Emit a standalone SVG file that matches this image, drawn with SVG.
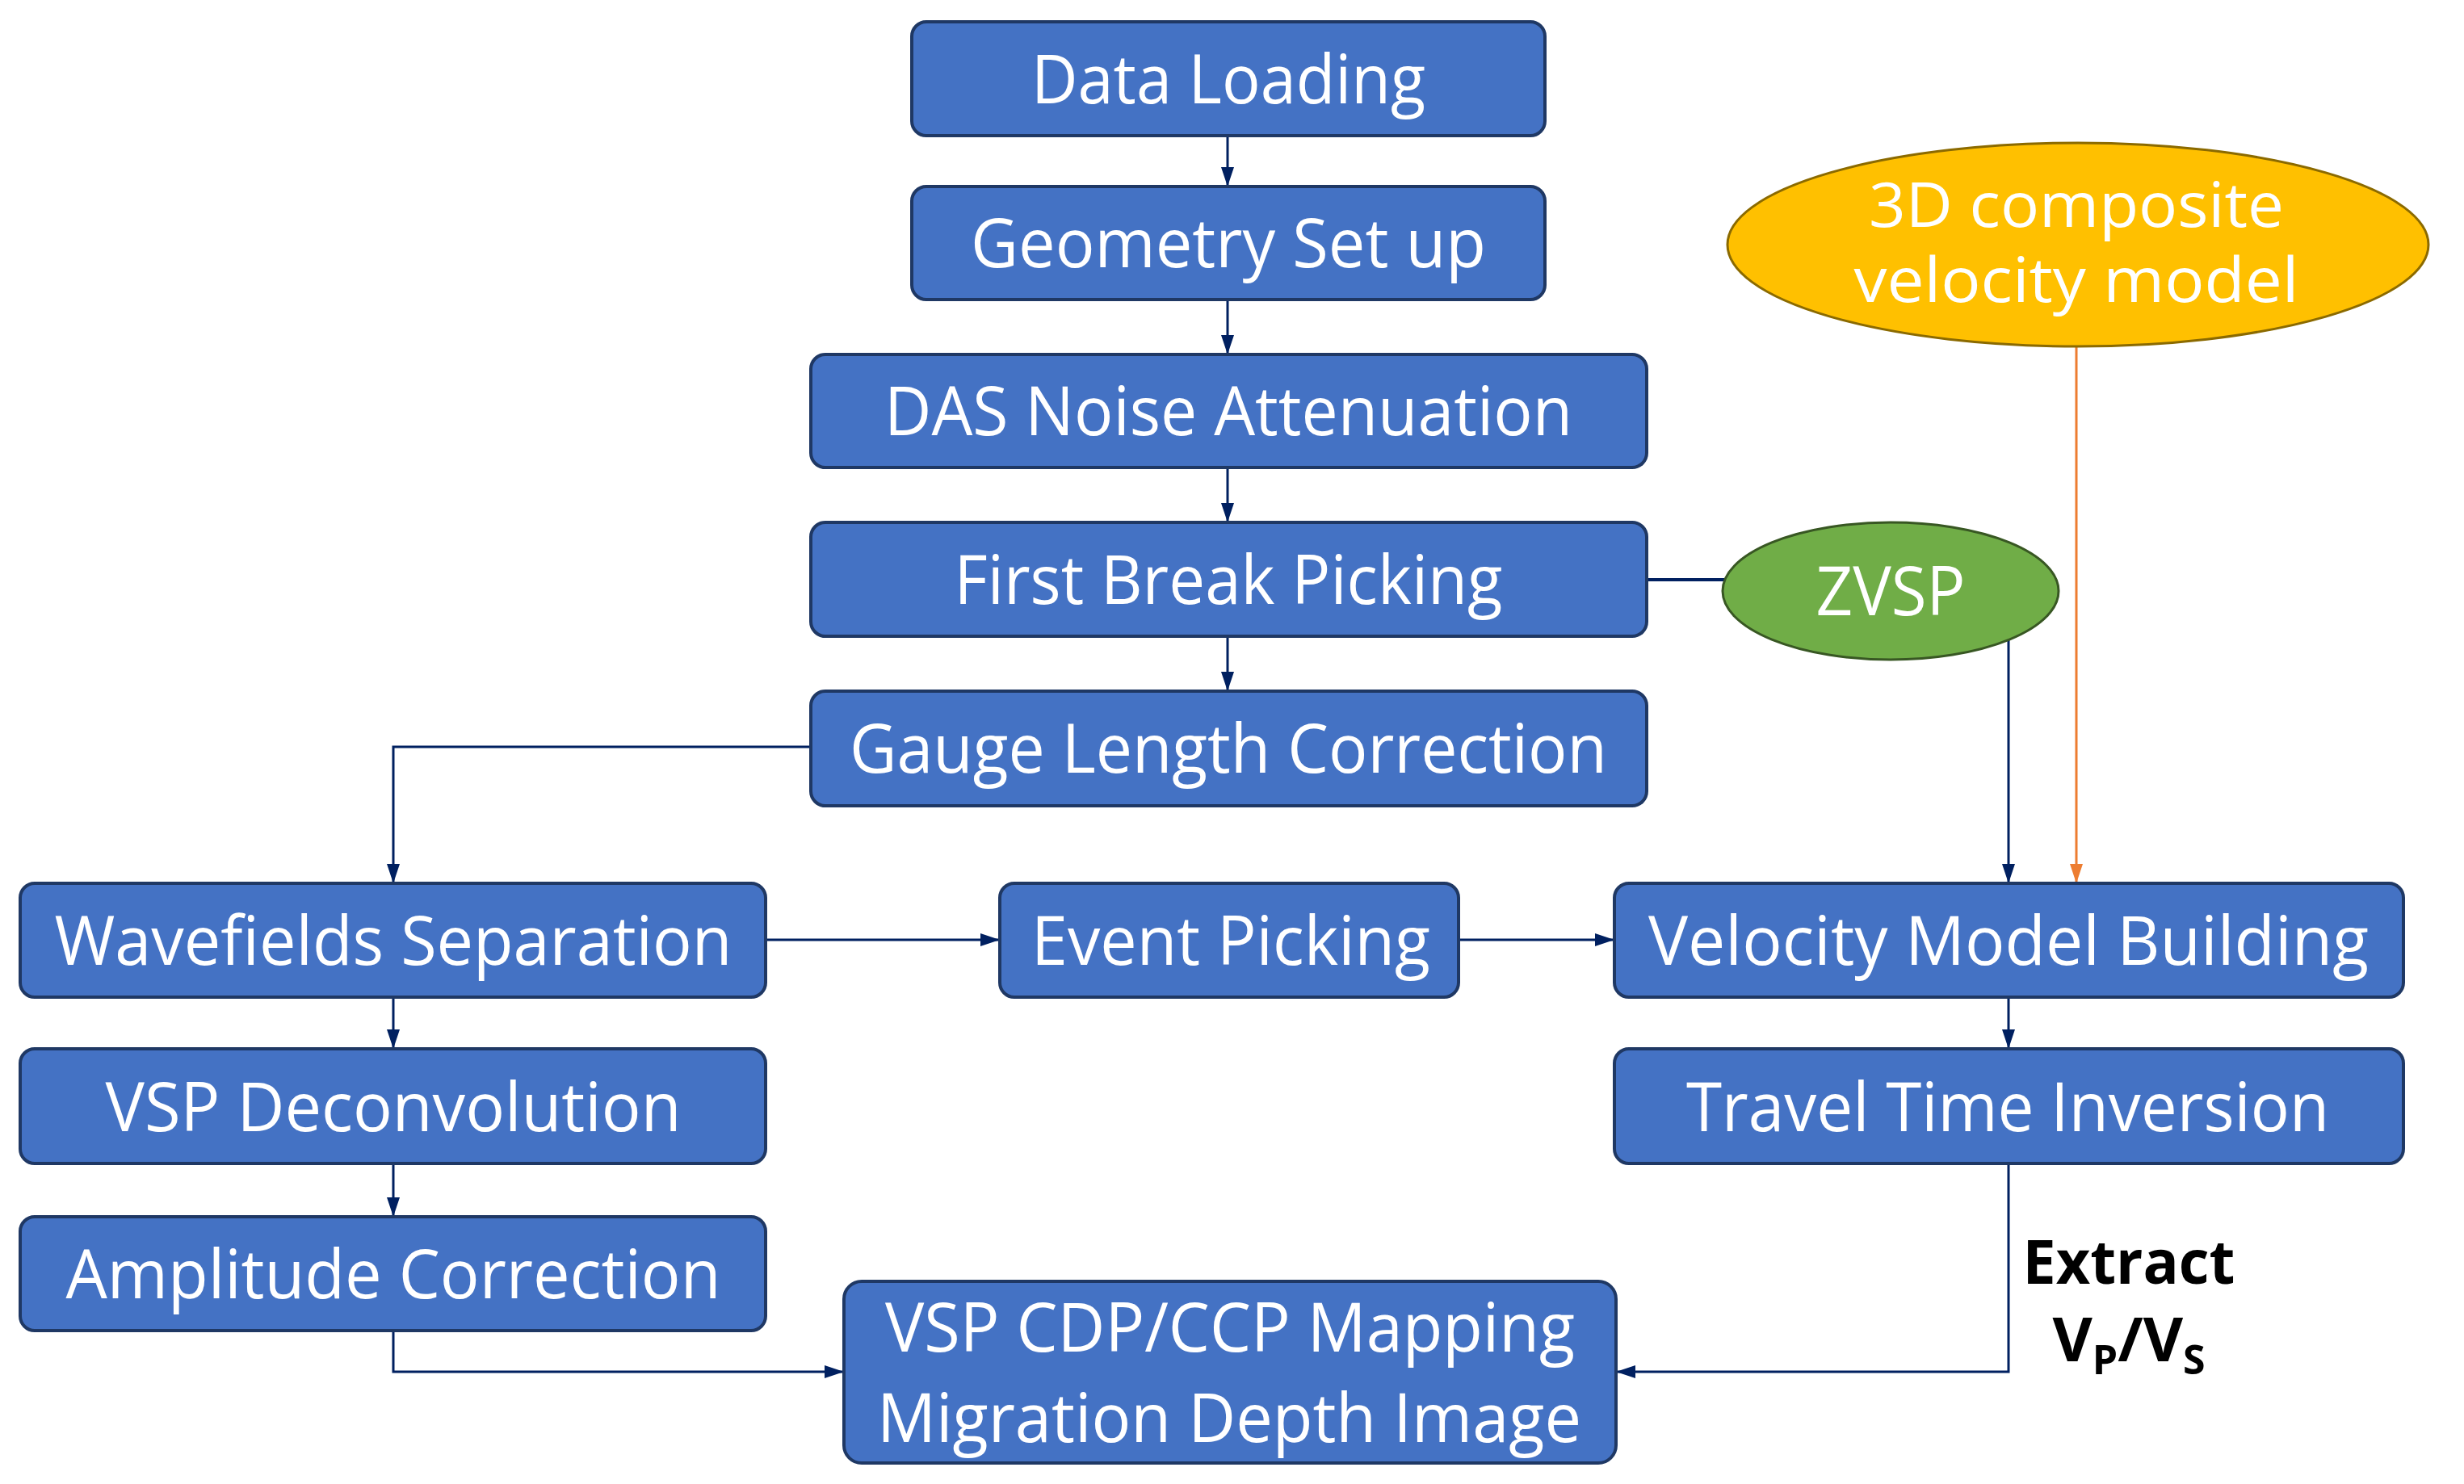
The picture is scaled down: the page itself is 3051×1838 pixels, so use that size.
<svg xmlns="http://www.w3.org/2000/svg" width="3051" height="1838" viewBox="0 0 3051 1838">
<style>
.b{fill:#4472C4;stroke:#1F3864;stroke-width:4}
.t{font-family:"Open Sans","Noto Sans",sans-serif;font-size:84px;fill:#fff;text-anchor:middle}
.c{fill:none;stroke:#002060;stroke-width:3}
</style>
<defs>
<marker id="ah" viewBox="0 0 24 16" refX="24" refY="8" markerWidth="24" markerHeight="16" orient="auto" markerUnits="userSpaceOnUse"><path d="M0,0 L24,8 L0,16 z" fill="#002060"/></marker>
<marker id="ao" viewBox="0 0 24 16" refX="24" refY="8" markerWidth="24" markerHeight="16" orient="auto" markerUnits="userSpaceOnUse"><path d="M0,0 L24,8 L0,16 z" fill="#ED7D31"/></marker>
</defs>
<g id="connectors">
<path class="c" d="M1520,168 V231" marker-end="url(#ah)"/>
<path class="c" d="M1520,371 V439" marker-end="url(#ah)"/>
<path class="c" d="M1520,579 V647" marker-end="url(#ah)"/>
<path class="c" d="M1520,788 V856" marker-end="url(#ah)"/>
<path class="c" d="M2039,718 H2135" style="stroke-width:4"/>
<path class="c" d="M2487,790 V1094" marker-end="url(#ah)"/>
<path d="M2571,429 V1094" fill="none" stroke="#ED7D31" stroke-width="3" marker-end="url(#ao)"/>
<path class="c" d="M1004,925 H487 V1094" marker-end="url(#ah)"/>
<path class="c" d="M948,1164 H1238" marker-end="url(#ah)"/>
<path class="c" d="M1806,1164 H1999" marker-end="url(#ah)"/>
<path class="c" d="M487,1235 V1299" marker-end="url(#ah)"/>
<path class="c" d="M487,1441 V1507" marker-end="url(#ah)"/>
<path class="c" d="M2487,1235 V1299" marker-end="url(#ah)"/>
<path class="c" d="M487,1648 V1699 H1045" marker-end="url(#ah)"/>
<path class="c" d="M2487,1441 V1699 H2001" marker-end="url(#ah)"/>
</g>
<g id="n1"><rect class="b" x="1129" y="27" width="784" height="141" rx="18"/><text class="t" x="1521" y="128" textLength="488" lengthAdjust="spacingAndGlyphs">Data Loading</text></g>
<g id="n2"><rect class="b" x="1129" y="231" width="784" height="140" rx="18"/><text class="t" x="1521" y="331" textLength="638" lengthAdjust="spacingAndGlyphs">Geometry Set up</text></g>
<g id="n3"><rect class="b" x="1004" y="439" width="1035" height="140" rx="18"/><text class="t" x="1521" y="539" textLength="852" lengthAdjust="spacingAndGlyphs">DAS Noise Attenuation</text></g>
<g id="n4"><rect class="b" x="1004" y="647" width="1035" height="141" rx="18"/><text class="t" x="1521" y="748" textLength="679" lengthAdjust="spacingAndGlyphs">First Break Picking</text></g>
<g id="n5"><rect class="b" x="1004" y="856" width="1035" height="142" rx="18"/><text class="t" x="1521" y="957" textLength="938" lengthAdjust="spacingAndGlyphs">Gauge Length Correction</text></g>
<g id="n6"><ellipse cx="2573" cy="303" rx="434" ry="126" fill="#FFC000" stroke="#8B6A00" stroke-width="3"/><text class="t" style="font-size:76px" x="2571" y="281" textLength="514" lengthAdjust="spacingAndGlyphs">3D composite</text><text class="t" style="font-size:76px" x="2571" y="374" textLength="551" lengthAdjust="spacingAndGlyphs">velocity model</text></g>
<g id="n7"><ellipse cx="2341" cy="732" rx="208" ry="85" fill="#70AD47" stroke="#385723" stroke-width="3"/><text class="t" x="2341" y="762" textLength="185" lengthAdjust="spacingAndGlyphs">ZVSP</text></g>
<g id="n8"><rect class="b" x="25" y="1094" width="923" height="141" rx="18"/><text class="t" x="487" y="1195" textLength="839" lengthAdjust="spacingAndGlyphs">Wavefields Separation</text></g>
<g id="n9"><rect class="b" x="1238" y="1094" width="568" height="141" rx="18"/><text class="t" x="1524" y="1195" textLength="494" lengthAdjust="spacingAndGlyphs">Event Picking</text></g>
<g id="n10"><rect class="b" x="1999" y="1094" width="977" height="141" rx="18"/><text class="t" x="2487" y="1195" textLength="892" lengthAdjust="spacingAndGlyphs">Velocity Model Building</text></g>
<g id="n11"><rect class="b" x="25" y="1299" width="923" height="142" rx="18"/><text class="t" x="487" y="1401" textLength="713" lengthAdjust="spacingAndGlyphs">VSP Deconvolution</text></g>
<g id="n12"><rect class="b" x="1999" y="1299" width="977" height="142" rx="18"/><text class="t" x="2486" y="1401" textLength="796" lengthAdjust="spacingAndGlyphs">Travel Time Inversion</text></g>
<g id="n13"><rect class="b" x="25" y="1507" width="923" height="141" rx="18"/><text class="t" x="487" y="1608" textLength="811" lengthAdjust="spacingAndGlyphs">Amplitude Correction</text></g>
<g id="n14"><rect class="b" x="1045" y="1587" width="956" height="225" rx="22"/><text class="t" x="1523" y="1674" textLength="854" lengthAdjust="spacingAndGlyphs">VSP CDP/CCP Mapping</text><text class="t" x="1522" y="1786" textLength="872" lengthAdjust="spacingAndGlyphs">Migration Depth Image</text></g>
<g id="label"><text x="2636" y="1590" font-family="'Open Sans','Noto Sans',sans-serif" font-weight="bold" font-size="76" text-anchor="middle" textLength="263" lengthAdjust="spacingAndGlyphs">Extract</text><text x="2636" y="1686" font-family="'Open Sans','Noto Sans',sans-serif" font-weight="bold" font-size="76" text-anchor="middle">V<tspan font-size="50" dy="16">P</tspan><tspan dy="-16">/V</tspan><tspan font-size="50" dy="16">S</tspan></text></g>
</svg>
